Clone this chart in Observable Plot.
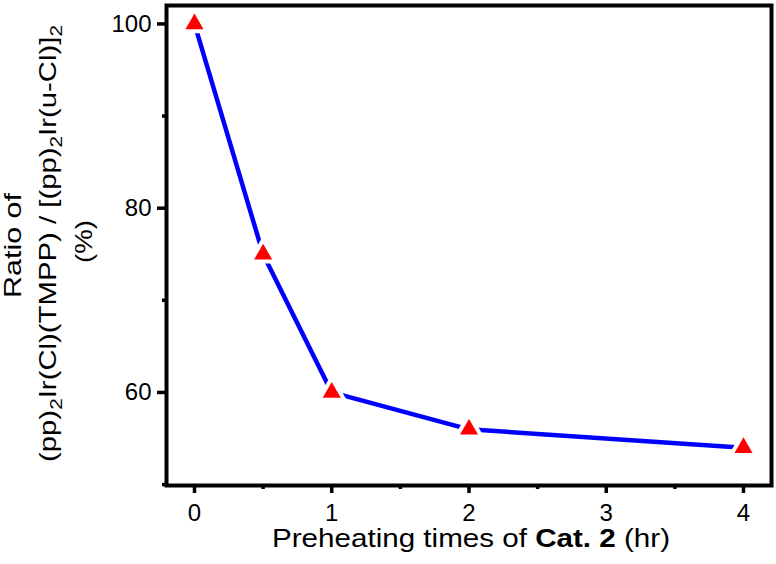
<!DOCTYPE html>
<html><head><meta charset="utf-8">
<script src="https://cdn.jsdelivr.net/npm/d3@7"></script>
<script src="https://cdn.jsdelivr.net/npm/@observablehq/plot@0.6"></script>
<style>body{margin:0;background:#fff}</style>
</head><body><div id="chart"></div>
<script>
const hours = [0, 0.5, 1, 2, 4];
const ratio = [100, 75, 60, 56, 54];
const xTicks = [0, 1, 2, 3, 4];
const xMinor = [0.5, 1.5, 2.5, 3.5];
const yTicks = [60, 80, 100];
const yMinor = [50, 70, 90];

const data = hours.map((h, i) => ({h, r: ratio[i]}));
const font = "'Liberation Sans', Arial, sans-serif";

const chart = Plot.plot({
  width: 776, height: 564,
  marginLeft: 166, marginRight: 5, marginTop: 5, marginBottom: 79,
  style: {fontFamily: font, fontSize: "24px", background: "#fff", color: "#000"},
  x: {domain: [-0.204, 4.204]},
  y: {domain: [49.9, 102]},
  marks: [
    Plot.axisX({ticks: xTicks, tickFormat: "d", tickSize: 8, tickPadding: 10, strokeWidth: 3.5, label: null, fontSize: 24}),
    Plot.axisX({ticks: xMinor, tickSize: 4, strokeWidth: 3.5, text: null, label: null}),
    Plot.axisY({ticks: yTicks, tickFormat: "d", tickSize: 9, tickPadding: 6, strokeWidth: 3.5, label: null, fontSize: 24}),
    Plot.axisY({ticks: yMinor, tickSize: 4, strokeWidth: 3.5, text: null, label: null}),
    Plot.line(data, {x: "h", y: "r", stroke: "#0000ff", strokeWidth: 4.5}),
    Plot.dot(data, {x: "h", y: "r", symbol: "triangle", r: 6.7, fill: "#fff", stroke: "#fff", strokeWidth: 8}),
    Plot.dot(data, {x: "h", y: "r", symbol: "triangle", r: 6.7, fill: "#ff0000", stroke: "none"}),
    Plot.frame({stroke: "#000", strokeWidth: 4})
  ]
});
document.getElementById("chart").append(chart);

const svg = d3.select(chart);
svg.selectAll('g[aria-label$="tick label"]').style("font-size", "24px").attr("font-size", 24);
svg.selectAll('g[aria-label$="tick label"] text').style("font-size", "24px");
svg.selectAll('g[aria-label="frame"], g[aria-label="frame"] rect, rect[aria-label="frame"]').attr("stroke-width", 4);

// x-axis label
const xl = svg.append("text").attr("x", 471).attr("y", 547).attr("text-anchor", "middle")
  .attr("font-family", font).attr("font-size", 25).attr("fill", "#000")
  .attr("textLength", 398).attr("lengthAdjust", "spacingAndGlyphs");
xl.append("tspan").text("Preheating times of ");
xl.append("tspan").attr("font-weight", "bold").text("Cat. 2");
xl.append("tspan").text(" (hr)");

// y-axis label (rotated, three lines)
const yl = svg.append("g").attr("font-family", font).attr("font-size", 24).attr("fill", "#000").attr("text-anchor", "middle");
yl.append("text").attr("transform", "translate(21,245.5) rotate(-90)")
  .attr("textLength", 105).attr("lengthAdjust", "spacingAndGlyphs").text("Ratio of");
const l2 = yl.append("text").attr("transform", "translate(56,243.5) rotate(-90)")
  .attr("textLength", 437).attr("lengthAdjust", "spacingAndGlyphs");
const parts = [["(pp)", false], ["2", true], ["Ir(Cl)(TMPP) / [(pp)", false], ["2", true], ["Ir(u-Cl)]", false], ["2", true]];
parts.forEach(([t, sub], i) => {
  const s = l2.append("tspan").text(t);
  if (sub) s.attr("font-size", 17).attr("dy", 6);
  else if (i > 0) s.attr("dy", -6);
});
yl.append("text").attr("transform", "translate(92,241.5) rotate(-90)")
  .attr("textLength", 43).attr("lengthAdjust", "spacingAndGlyphs").text("(%)");
</script></body></html>
